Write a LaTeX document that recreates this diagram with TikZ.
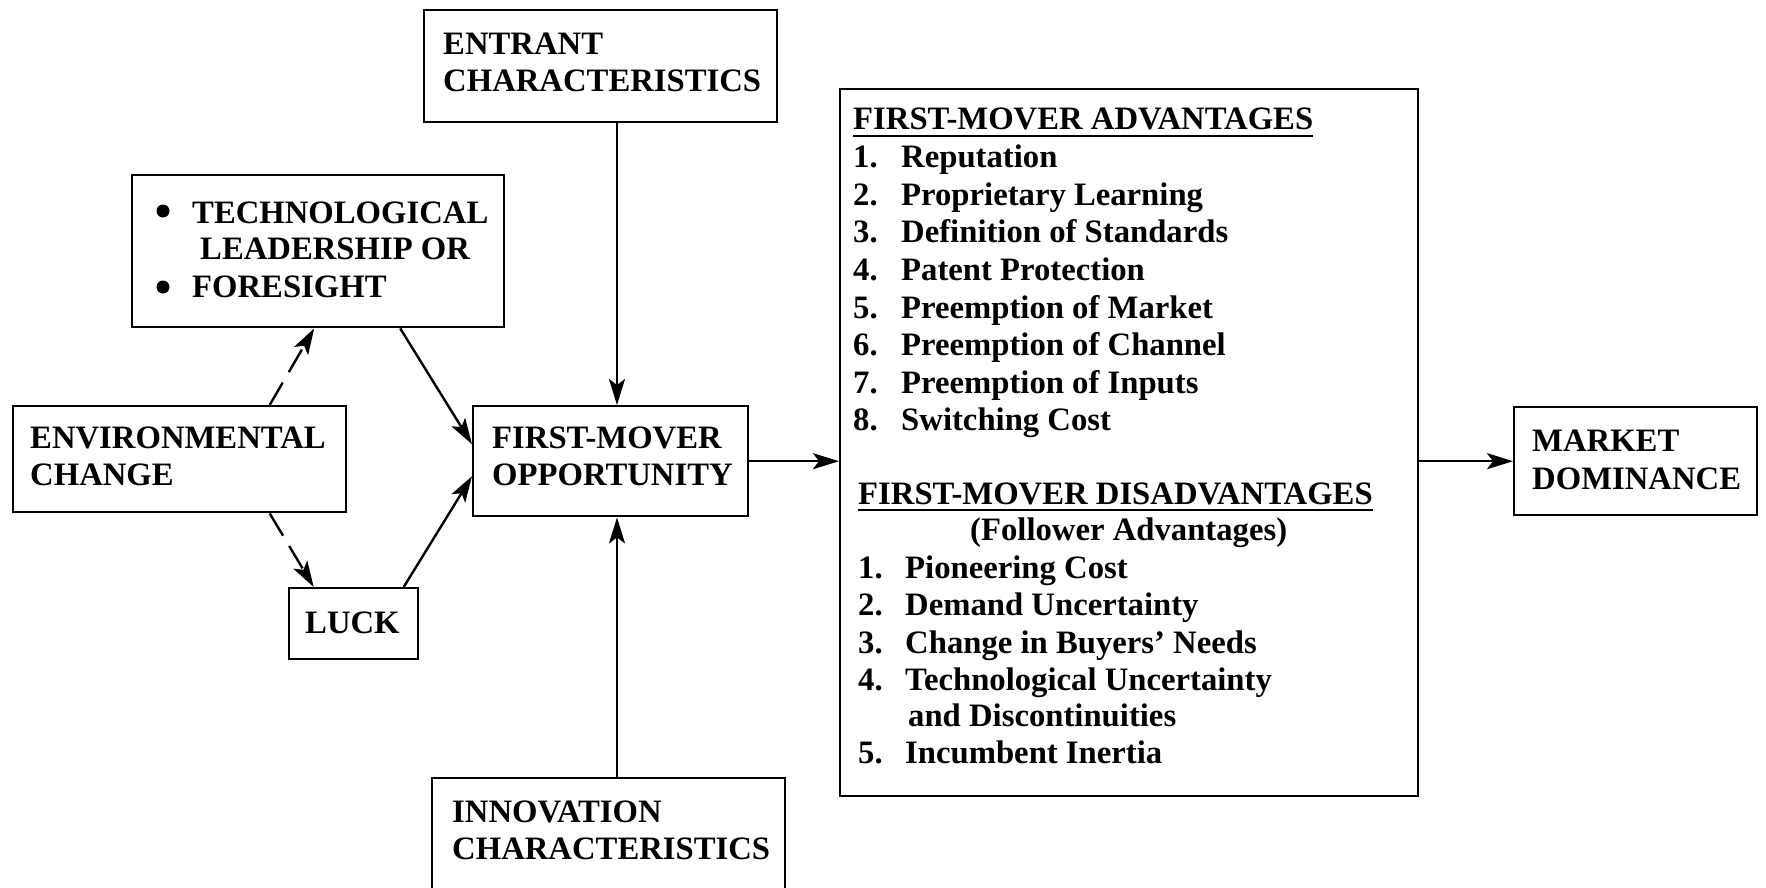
\documentclass[tikz,border=0pt]{standalone}
\usepackage{fontspec}
\setmainfont{Liberation Serif}
\usetikzlibrary{arrows.meta}
\begin{document}
\begin{tikzpicture}[x=1pt,y=-1pt,
  box/.style={draw, line width=2.4pt, inner sep=0, anchor=north west},
  txt/.style={anchor=base west, inner sep=0, font=\bfseries\fontsize{32.7}{38}\selectfont},
  arr/.style={line width=2.4pt, -{Stealth[length=26pt,width=16pt,inset=6pt]}},
  darr/.style={arr, dash pattern=on 26pt off 12pt},
  dot/.style={circle, fill, inner sep=0, minimum size=13pt},
]
\useasboundingbox (0,0) rectangle (1766,888);
\fill[white] (0,0) rectangle (1766,888);

% boxes
\node[box, minimum width=353pt, minimum height=112pt] (ent)   at (423,9)   {};
\node[box, minimum width=372pt, minimum height=152pt] (tech)  at (131,174) {};
\node[box, minimum width=333pt, minimum height=106pt] (env)   at (12,405)  {};
\node[box, minimum width=129pt, minimum height=71pt]  (luck)  at (288,587) {};
\node[box, minimum width=275pt, minimum height=110pt] (fmo)   at (472,405) {};
\node[box, minimum width=353pt, minimum height=150pt] (innov) at (431,777) {};
\node[box, minimum width=578pt, minimum height=707pt] (big)   at (839,88)  {};
\node[box, minimum width=243pt, minimum height=108pt] (mkt)   at (1513,406) {};

% box labels
\node[txt] (ent1) at (443,55) {ENTRANT};
\node[txt] (ent2) at (443,92) {CHARACTERISTICS};
\node[dot] (b1) at (163,211) {};
\node[dot] (b2) at (163,287) {};
\node[txt] (tech1) at (192,223) {TECHNOLOGICAL};
\node[txt] (tech2) at (200,259) {LEADERSHIP OR};
\node[txt] (tech3) at (192,297) {FORESIGHT};
\node[txt] (env1) at (30,448) {ENVIRONMENTAL};
\node[txt] (env2) at (30,485) {CHANGE};
\node[txt] (luck1) at (305,633) {LUCK};
\node[txt] (fmo1) at (492,448) {FIRST-MOVER};
\node[txt] (fmo2) at (492,485) {OPPORTUNITY};
\node[txt] (inn1) at (452,822) {INNOVATION};
\node[txt] (inn2) at (452,859) {CHARACTERISTICS};
\node[txt] (mkt1) at (1532,451) {MARKET};
\node[txt] (mkt2) at (1532,489) {DOMINANCE};

% advantages list
\node[txt] (advh) at (853,130) {FIRST-MOVER ADVANTAGES};
\draw[line width=2pt] ([yshift=-6pt]advh.base west) -- ([yshift=-6pt]advh.base east);
\foreach \t [count=\i] in {Reputation, Proprietary Learning, Definition of Standards,
    Patent Protection, Preemption of Market, Preemption of Channel,
    Preemption of Inputs, Switching Cost}{
  \node[txt] (advn\i) at (853,{130+37.6*\i}) {\i.};
  \node[txt] (advt\i) at (901,{130+37.6*\i}) {\t};
}

% disadvantages list
\node[txt] (dish) at (858,504) {FIRST-MOVER DISADVANTAGES};
\draw[line width=2pt] ([yshift=-6pt]dish.base west) -- ([yshift=-6pt]dish.base east);
\node[txt] (folw) at (970,540) {(Follower Advantages)};
\node[txt] (disn1) at (858,578) {1.};
\node[txt] (dist1) at (905,578) {Pioneering Cost};
\node[txt] (disn2) at (858,615) {2.};
\node[txt] (dist2) at (905,615) {Demand Uncertainty};
\node[txt] (disn3) at (858,653) {3.};
\node[txt] (dist3) at (905,653) {Change in Buyers’ Needs};
\node[txt] (disn4) at (858,690) {4.};
\node[txt] (dist4) at (905,690) {Technological Uncertainty};
\node[txt] (dist4b) at (908,726) {and Discontinuities};
\node[txt] (disn5) at (858,763) {5.};
\node[txt] (dist5) at (905,763) {Incumbent Inertia};

% connectors
\coordinate (vx) at (617,0);
\draw[arr] (ent.south -| vx) -- (fmo.north -| vx);
\draw[arr] (innov.north -| vx) -- (fmo.south -| vx);
\draw[arr] ([xshift=82pt]tech.south) -- ([yshift=17pt]fmo.west);
\draw[arr] ([xshift=50pt]luck.north) -- ([yshift=-15pt]fmo.west);
\draw[darr] ([xshift=90pt]env.north) -- ([xshift=-4pt]tech.south);
\draw[darr] ([xshift=90pt]env.south) -- ([xshift=-40pt]luck.north);
\draw[arr] (fmo.east) -- (big.west |- fmo.east);
\draw[arr] (big.east |- mkt.west) -- (mkt.west);
\end{tikzpicture}
\end{document}
